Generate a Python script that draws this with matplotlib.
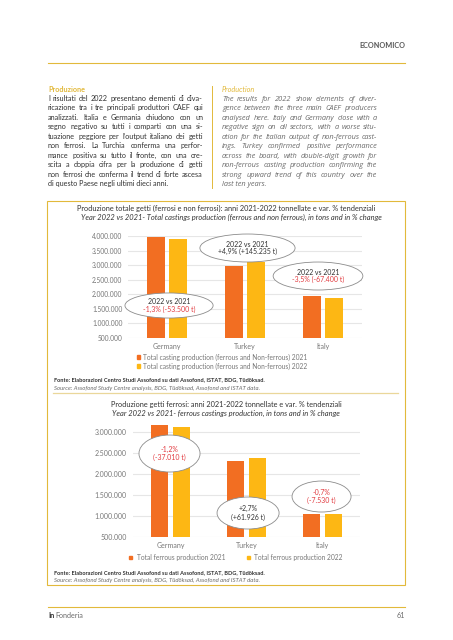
import matplotlib

matplotlib.use('Agg')
import matplotlib.pyplot as plt
from matplotlib.patches import Ellipse, Rectangle
from matplotlib.lines import Line2D
import numpy as np

W, H = 453, 640

# ---- data ----
countries = ['Germany', 'Turkey', 'Italy']
total_2021 = [3950000, 2970000, 1945000]
total_2022 = [3896500, 3115235, 1877600]
total_notes = [('2022 vs 2021', '-1,3% (-53.500 t)'),
               ('2022 vs 2021', '+4,9% (+145.235 t)'),
               ('2022 vs 2021', '-3,5% (-67.400 t)')]
total_ticks = [500000, 1000000, 1500000, 2000000, 2500000, 3000000, 3500000, 4000000]
total_legend = ['Total casting production (ferrous and Non-ferrous) 2021',
                'Total casting production (ferrous and Non-ferrous) 2022']

ferrous_2021 = [3150000, 2302000, 1040000]
ferrous_2022 = [3112990, 2363926, 1032470]
ferrous_notes = [('-1,2%', '(-37.010 t)'),
                 ('+2,7%', '(+61.926 t)'),
                 ('-0,7%', '(-7.530 t)')]
ferrous_ticks = [500000, 1000000, 1500000, 2000000, 2500000, 3000000]
ferrous_legend = ['Total ferrous production 2021', 'Total ferrous production 2022']

text_it = ["I risultati del 2022 presentano elementi di diva-",
           "ricazione tra i tre principali produttori CAEF qui",
           "analizzati. Italia e Germania chiudono con un",
           "segno negativo su tutti i comparti con una si-",
           "tuazione peggiore per l’output italiano dei getti",
           "non ferrosi. La Turchia conferma una perfor-",
           "mance positiva su tutto il fronte, con una cre-",
           "scita a doppia cifra per la produzione di getti",
           "non ferrosi che conferma il trend di forte ascesa",
           "di questo Paese negli ultimi dieci anni."]
text_en = ["The results for 2022 show elements of diver-",
           "gence between the three main CAEF producers",
           "analysed here. Italy and Germany close with a",
           "negative sign on all sectors, with a worse situ-",
           "ation for the Italian output of non-ferrous cast-",
           "ings. Turkey confirmed positive performance",
           "across the board, with double-digit growth for",
           "non-ferrous casting production confirming the",
           "strong upward trend of this country over the",
           "last ten years."]

ORANGE = '#F26E22'
YELLOW = '#FDB714'
RED = '#E23B40'
GOLD = '#E2B93B'
DARK = '#333333'
GREY = '#6b6b6b'

plt.rcParams['font.family'] = ['Lato', 'DejaVu Sans']

fig = plt.figure(figsize=(W / 100, H / 100), dpi=100)
fig.patch.set_facecolor('white')
renderer = fig.canvas.get_renderer()


def fx(px):
    return px / W


def fy(py):
    return 1 - py / H


def text(px, py, s, **kw):
    return fig.text(fx(px), fy(py), s, **kw)


def hline(x0, x1, y, color=GOLD, lw=0.9):
    fig.add_artist(Line2D([fx(x0), fx(x1)], [fy(y), fy(y)], color=color, lw=lw,
                          transform=fig.transFigure))


def measure(s, **kw):
    t = text(0, 0, s, **kw)
    w = t.get_window_extent(renderer).width
    t.remove()
    return w


def justified(lines, x0, x1, y0, dy, **kw):
    # size so the longest line just fills the column, words spread to both edges
    longest = max(measure(l, fontsize=10, **kw) for l in lines)
    fs = 10 * (x1 - x0) / longest * 0.985
    base = fs * 100 / 72 * 0.36
    for i, line in enumerate(lines):
        y = y0 + i * dy + base
        words = line.split()
        if i == len(lines) - 1 or len(words) < 2:
            text(x0, y, line, va='baseline', ha='left', fontsize=fs, **kw)
            continue
        widths = [measure(w, fontsize=fs, **kw) for w in words]
        gap = (x1 - x0 - sum(widths)) / (len(words) - 1)
        x = x0
        for w, wd in zip(words, widths):
            text(x, y, w, va='baseline', ha='left', fontsize=fs, **kw)
            x += wd + gap


# ---- page header / footer ----
text(405, 45, 'ECONOMICO', ha='right', va='center', fontsize=5.2, fontweight='bold', color='#555555')
hline(48, 405, 63, lw=0.8)
hline(48, 405, 607, lw=0.8)
text(48, 616, 'In', ha='left', va='center', fontsize=5.2, fontweight='bold', color=DARK)
text(55.5, 616, 'Fonderia', ha='left', va='center', fontsize=5.2, color=GREY)
text(405, 616, '61', ha='right', va='center', fontsize=5.2, color=GREY)

# ---- two text columns ----
text(48, 89, 'Produzione', ha='left', va='center', fontsize=5.2, fontweight='bold', color=GOLD)
justified(text_it, 48, 203, 98.3, 9.5, color=DARK)
text(222, 89, 'Production', ha='left', va='center', fontsize=5.2, style='italic', color=GOLD)
justified(text_en, 222, 377, 98.3, 9.5, color=GREY, style='italic',
          family=['Open Sans', 'DejaVu Sans'])
fig.add_artist(Line2D([fx(212), fx(212)], [fy(86), fy(188)], color=GOLD, lw=0.7,
                      transform=fig.transFigure))

# ---- chart frame ----
fig.add_artist(Rectangle((fx(47), fy(585)), fx(405) - fx(47), fy(201) - fy(585),
                         fill=False, edgecolor=GOLD, lw=0.8, transform=fig.transFigure))
hline(53, 398, 393, color='#EAD79A', lw=0.9)


def bar_chart(rect, v21, v22, ticks, ylim, notes, note_geom, note_colors, half, width, tick_fs):
    left, top, right, bottom = rect
    ax = fig.add_axes([fx(left), fy(bottom), fx(right) - fx(left), fy(top) - fy(bottom)])
    x = np.arange(len(countries))
    ax.bar(x - half, v21, width, color=ORANGE, zorder=2)
    ax.bar(x + half, v22, width, color=YELLOW, zorder=2)
    ax.set_xlim(-0.5, len(countries) - 0.5)
    ax.set_ylim(*ylim)
    ax.set_yticks(ticks)
    ax.set_yticklabels([f'{t:,}'.replace(',', '.') for t in ticks])
    ax.set_xticks(x)
    ax.set_xticklabels(countries)
    ax.tick_params(length=0, labelsize=tick_fs, colors='#777777', pad=4)
    ax.tick_params(axis='x', pad=3.5, labelsize=5.0)
    ax.grid(axis='y', color='#e6e6e6', lw=0.8, zorder=0)
    for s in ax.spines.values():
        s.set_visible(False)
    ax.set_facecolor('none')
    for (l1, l2), (cx, cy, ew, eh), (c1, c2) in zip(notes, note_geom, note_colors):
        ax.add_patch(Ellipse((cx, cy), ew, eh, facecolor='white', edgecolor='#8c8c8c',
                             lw=0.6, zorder=5, clip_on=False))
        dy = (ylim[1] - ylim[0]) * 0.037
        ax.text(cx, cy + dy, l1, ha='center', va='center', fontsize=5.0, color=c1, zorder=6)
        ax.text(cx, cy - dy, l2, ha='center', va='center', fontsize=5.0, color=c2, zorder=6)
    return ax


# chart 1
text(226.5, 208, 'Produzione totale getti (ferrosi e non ferrosi): anni 2021-2022 tonnellate e var. % tendenziali',
     ha='center', va='center', fontsize=5.35, color=DARK)
text(231, 217, 'Year 2022 vs 2021- Total castings production (ferrous and non ferrous), in tons and in % change',
     ha='center', va='center', fontsize=5.45, color=DARK, style='italic')
ax1 = bar_chart((128, 236, 362, 338), total_2021, total_2022, total_ticks, (500000, 4000000),
                total_notes,
                [(0.026, 1615000, 1.13, 860000), (1.032, 3588000, 1.22, 960000),
                 (1.936, 2627000, 1.15, 960000)],
                [(DARK, RED), (DARK, DARK), (DARK, RED)], 0.141, 0.23, 4.8)
h1 = [Rectangle((0, 0), 1, 1, color=ORANGE), Rectangle((0, 0), 1, 1, color=YELLOW)]
fig.legend(h1, total_legend, loc='upper left', bbox_to_anchor=(fx(137), fy(353.5)), frameon=False,
           fontsize=4.8, labelcolor='#777777', handlelength=0.45, handleheight=0.45,
           handletextpad=0.45, labelspacing=0.25, borderpad=0, borderaxespad=0)
text(54, 380, 'Fonte: Elaborazioni Centro Studi Assofond su dati Assofond, ISTAT, BDG, Tüdöksad.',
     ha='left', va='center', fontsize=4.1, color=DARK, fontweight='bold')
text(54, 388, 'Source: Assofond Study Centre analysis, BDG, Tüdöksad, Assofond and ISTAT data.',
     ha='left', va='center', fontsize=4.35, color=GREY, style='italic')

# chart 2
text(226, 404, 'Produzione getti ferrosi: anni 2021-2022 tonnellate e var. % tendenziali',
     ha='center', va='center', fontsize=5.35, color=DARK)
text(226, 413, 'Year 2022 vs 2021- ferrous castings production, in tons and in % change',
     ha='center', va='center', fontsize=5.45, color=DARK, style='italic')
ax2 = bar_chart((132.5, 424.6, 360, 536.7), ferrous_2021, ferrous_2022, ferrous_ticks, (500000, 3170000),
                ferrous_notes,
                [(-0.012, 2481000, 0.805, 881000), (1.024, 1064000, 0.818, 762000),
                 (1.993, 1457000, 0.778, 738000)],
                [(RED, RED), (DARK, DARK), (RED, RED)], 0.145, 0.224, 5.0)
fig.legend(h1, ferrous_legend, loc='upper left', bbox_to_anchor=(fx(129), fy(554)), frameon=False,
           fontsize=4.8, labelcolor='#777777', handlelength=0.45, handleheight=0.45, ncol=2,
           handletextpad=0.7, columnspacing=3.2, borderpad=0, borderaxespad=0)
text(54, 573, 'Fonte: Elaborazioni Centro Studi Assofond su dati Assofond, ISTAT, BDG, Tüdöksad.',
     ha='left', va='center', fontsize=4.1, color=DARK, fontweight='bold')
text(54, 580, 'Source: Assofond Study Centre analysis, BDG, Tüdöksad, Assofond and ISTAT data.',
     ha='left', va='center', fontsize=4.35, color=GREY, style='italic')

fig.savefig('out.png', dpi=100, facecolor='white')
